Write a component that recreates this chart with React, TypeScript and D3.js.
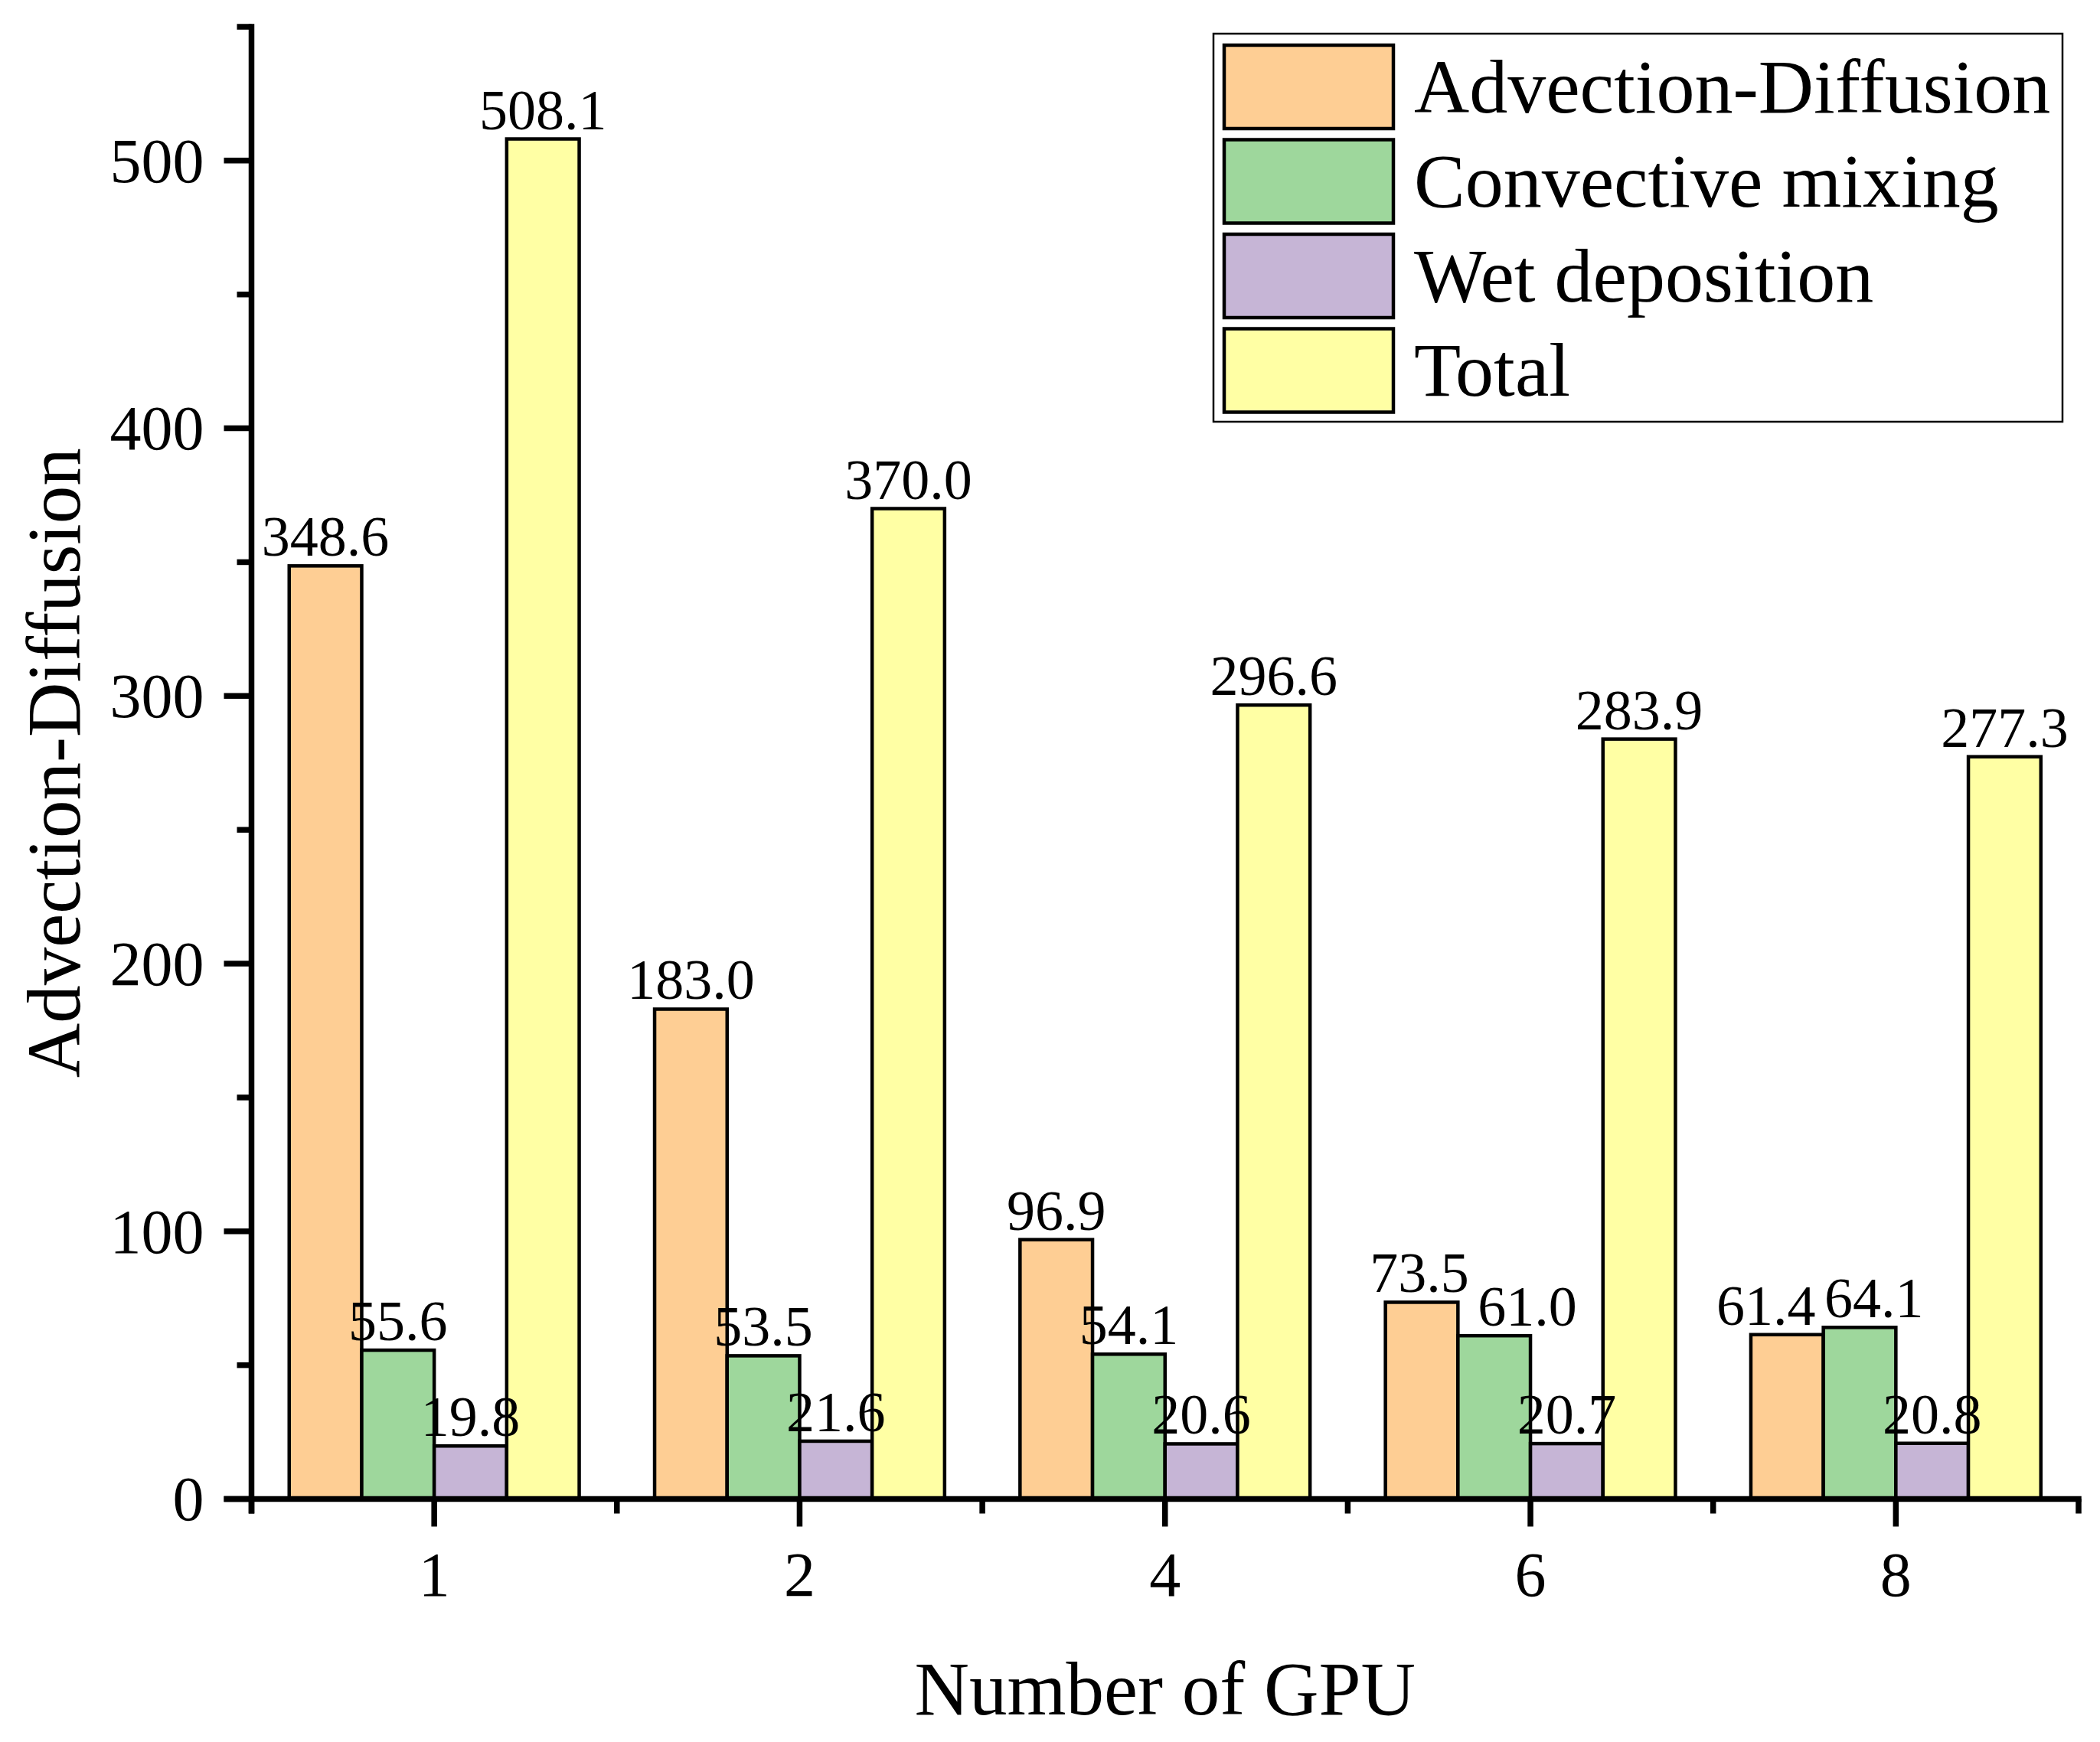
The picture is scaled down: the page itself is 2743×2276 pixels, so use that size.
import React from "react";
import * as d3 from "d3";

// GPU counts on the x axis
const gpuCounts: string[] = ["1", "2", "4", "6", "8"];

// Run time of each component per GPU count
const seriesNames: string[] = ["Advection-Diffusion", "Convective mixing", "Wet deposition", "Total"];
const advectionDiffusion: number[] = [348.6, 183.0, 96.9, 73.5, 61.4];
const convectiveMixing: number[] = [55.6, 53.5, 54.1, 61.0, 64.1];
const wetDeposition: number[] = [19.8, 21.6, 20.6, 20.7, 20.8];
const total: number[] = [508.1, 370.0, 296.6, 283.9, 277.3];

const seriesColors: string[] = ["#FECE94", "#9ED79C", "#C6B5D6", "#FFFFA4"];

const yMajorTicks: number[] = [0, 100, 200, 300, 400, 500];
const yMinorTicks: number[] = [50, 150, 250, 350, 450, 550];

const xTitle = "Number of GPU";
const yTitle = "Advection-Diffusion";

const W = 2743;
const H = 2276;
const FONT = "'Liberation Serif', 'Times New Roman', serif";

type Label = { text: string; x: number; y: number };

export default function App() {
  const seriesValues = [advectionDiffusion, convectiveMixing, wetDeposition, total];

  const left = 328.5;
  const right = 2715;
  const top = 35;
  const bottom = 1958.5;

  const x = d3.scaleBand<string>().domain(gpuCounts).range([left, right]).padding(0);
  const inner = d3
    .scaleBand<string>()
    .domain(seriesNames)
    .range([0, x.bandwidth()])
    .paddingInner(0)
    .paddingOuter(0.52);
  const y = d3.scaleLinear().domain([0, 550]).range([bottom, top]);

  const axisW = 7.5;
  const majorLen = 36;
  const minorLen = 19;
  const tickFont = 82;
  const valueFont = 74;

  const bandEdges = d3.range(gpuCounts.length + 1).map((i) => left + i * x.step());

  // value labels, pushed apart sideways when neighbours in a group collide;
  // the lower of the two labels takes most of the shift
  const labels: Label[][] = gpuCounts.map((c, ci) =>
    seriesValues.map((vals, si) => ({
      text: vals[ci].toFixed(1),
      x: (x(c) as number) + (inner(seriesNames[si]) as number) + inner.bandwidth() / 2,
      y: y(vals[ci]) - 13,
    }))
  );
  const textW = (s: string) => (s.replace(".", "").length * 0.5 + 0.25 - 0.06) * valueFont;
  const vThreshold = valueFont * 0.68;
  labels.forEach((group) => {
    for (let i = 0; i < group.length - 1; i++) {
      const a = group[i];
      const b = group[i + 1];
      const dy = b.y - a.y; // > 0 when b sits lower
      if (Math.abs(dy) < vThreshold) {
        const need = (textW(a.text) + textW(b.text)) / 2 + 16;
        const gap = b.x - a.x;
        if (gap < need) {
          const shift = need - gap;
          const bShare = 0.5 + dy / (2 * vThreshold);
          a.x -= shift * (1 - bShare);
          b.x += shift * bShare;
        }
      }
    }
  });

  const legendX = 1585;
  const legendY = 44;
  const legendW = 1109;
  const legendH = 507;
  const swX = 1599;
  const swW = 221;
  const swH = 109;
  const rowStep = 123.5;
  const firstRow = 59;

  return (
    <svg
      width={W}
      height={H}
      viewBox={`0 0 ${W} ${H}`}
      style={{ position: "absolute", left: 0, top: 0, background: "#fff" }}
      fontFamily={FONT}
    >
      <rect x={0} y={0} width={W} height={H} fill="#fff" />

      {/* bars */}
      {seriesValues.map((vals, si) =>
        vals.map((v, ci) => {
          const bx = (x(gpuCounts[ci]) as number) + (inner(seriesNames[si]) as number);
          return (
            <rect
              key={`b-${si}-${ci}`}
              x={bx}
              y={y(v)}
              width={inner.bandwidth()}
              height={y(0) - y(v)}
              fill={seriesColors[si]}
              stroke="#000"
              strokeWidth={4.5}
            />
          );
        })
      )}

      {/* value labels */}
      {labels.flatMap((group, ci) =>
        group.map((l, si) => (
          <text key={`l-${si}-${ci}`} x={l.x} y={l.y} textAnchor="middle" fontSize={valueFont} fill="#000">
            {l.text}
          </text>
        ))
      )}

      {/* y axis */}
      <line x1={left} x2={left} y1={top - axisW / 2} y2={bottom + minorLen} stroke="#000" strokeWidth={axisW} />
      {yMajorTicks.map((t) => (
        <g key={`ym-${t}`}>
          <line x1={left - majorLen} x2={left} y1={y(t)} y2={y(t)} stroke="#000" strokeWidth={axisW} />
          <text x={left - majorLen - 26} y={y(t)} dy="0.34em" textAnchor="end" fontSize={tickFont} fill="#000">
            {t}
          </text>
        </g>
      ))}
      {yMinorTicks.map((t) => (
        <line key={`yn-${t}`} x1={left - minorLen} x2={left} y1={y(t)} y2={y(t)} stroke="#000" strokeWidth={axisW} />
      ))}

      {/* x axis */}
      <line x1={left - majorLen} x2={right + axisW / 2} y1={bottom} y2={bottom} stroke="#000" strokeWidth={axisW} />
      {bandEdges.map((bx, i) => (
        <line key={`xn-${i}`} x1={bx} x2={bx} y1={bottom} y2={bottom + minorLen} stroke="#000" strokeWidth={axisW} />
      ))}
      {gpuCounts.map((c) => {
        const cx = (x(c) as number) + x.bandwidth() / 2;
        return (
          <g key={`xm-${c}`}>
            <line x1={cx} x2={cx} y1={bottom} y2={bottom + majorLen} stroke="#000" strokeWidth={axisW} />
            <text x={cx} y={2085} textAnchor="middle" fontSize={tickFont} fill="#000">
              {c}
            </text>
          </g>
        );
      })}

      {/* axis titles */}
      <text x={(left + right) / 2} y={2240} textAnchor="middle" fontSize={99} fill="#000">
        {xTitle}
      </text>
      <text
        transform={`translate(104, ${(top + bottom) / 2}) rotate(-90)`}
        textAnchor="middle"
        fontSize={99}
        fill="#000"
      >
        {yTitle}
      </text>

      {/* legend */}
      <rect x={legendX} y={legendY} width={legendW} height={legendH} fill="#fff" stroke="#000" strokeWidth={2.5} />
      {seriesNames.map((name, i) => {
        const ry = firstRow + i * rowStep;
        return (
          <g key={`lg-${i}`}>
            <rect x={swX} y={ry} width={swW} height={swH} fill={seriesColors[i]} stroke="#000" strokeWidth={4.5} />
            <text x={1847} y={ry + swH / 2} dy="0.33em" fontSize={100} fill="#000">
              {name}
            </text>
          </g>
        );
      })}
    </svg>
  );
}
